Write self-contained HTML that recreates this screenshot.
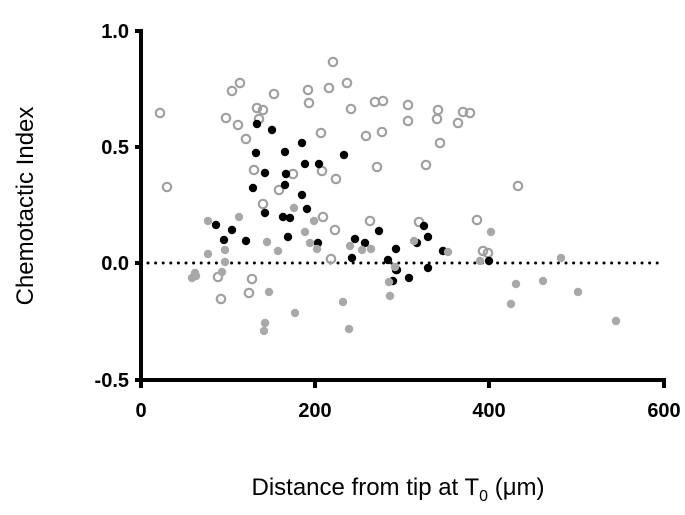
<!DOCTYPE html><html><head><style>body{margin:0;background:#fff}svg{display:block}text{font-family:"Liberation Sans",sans-serif}</style></head><body>
<svg width="685" height="515" viewBox="0 0 685 515">
<line x1="148" y1="263" x2="664" y2="263" stroke="#000" stroke-width="3" stroke-dasharray="0 7.6" stroke-linecap="round"/>
<g fill="none" stroke="#a0a0a0" stroke-width="2.2">
<script>/*none*/</script>
</g>
<g id="o" fill="none" stroke="#a0a0a0" stroke-width="2.2"></g>
<g id="b" fill="#000"></g>
<g id="g" fill="#a8a8a8"></g>
<g stroke="#000" stroke-width="4" fill="none">
<path d="M141 29V382M135 31H141M135 147H141M135 263H141M135 380H141M139 380H666M141 380V388M315 380V388M489 380V388M664 380V388"/>
</g>
<g font-size="20" font-weight="bold" text-anchor="end">
<text x="129" y="38">1.0</text><text x="129" y="154">0.5</text><text x="129" y="270">0.0</text><text x="129" y="387">-0.5</text></g>
<g font-size="20" font-weight="bold" text-anchor="middle">
<text x="141" y="417">0</text><text x="315" y="417">200</text><text x="489" y="417">400</text><text x="664" y="417">600</text></g>
<text x="398" y="495" font-size="24" text-anchor="middle">Distance from tip at T<tspan font-size="16" dy="6">0</tspan><tspan dy="-6"> (μm)</tspan></text>
<text transform="translate(33,206) rotate(-90)" font-size="24" text-anchor="middle">Chemotactic Index</text>
</svg>
<script>
var O=[[160,113],[167,187],[232,91],[240,83],[274,94],[308,90],[309,103],[329,88],[333,62],[347,83],[375,102],[383,101],[351,109],[257,108],[263,110],[226,118],[238,125],[259,119],[246,139],[321,133],[366,136],[382,132],[254,170],[293,174],[322,171],[336,179],[377,167],[279,190],[263,204],[323,217],[335,230],[370,221],[331,259],[218,277],[252,279],[249,293],[221,299],[408,105],[408,121],[438,110],[437,119],[458,123],[463,112],[470,113],[440,143],[426,165],[518,186],[477,220],[419,222],[483,251],[488,253]];
var B=[[257,124],[272,130],[302,143],[256,153],[285,152],[344,155],[305,164],[319,164],[265,173],[286,174],[253,188],[285,185],[302,195],[265,213],[283,217],[290,218],[307,209],[216,225],[232,230],[224,240],[246,241],[288,237],[318,243],[355,239],[365,243],[379,231],[352,258],[388,260],[396,249],[396,270],[393,281],[397,270],[409,278],[424,226],[428,237],[417,243],[443,251],[428,268],[489,261]];
var G=[[208,221],[239,217],[294,208],[314,221],[305,232],[267,242],[278,251],[310,243],[317,249],[208,254],[225,250],[225,262],[222,272],[195,273],[192,278],[196,276],[350,246],[362,250],[371,249],[395,267],[389,282],[390,296],[269,292],[343,302],[295,313],[265,323],[264,331],[349,329],[414,241],[448,252],[491,232],[480,261],[561,258],[516,284],[543,281],[511,304],[578,292],[616,321]];
function add(id,a,r){var g=document.getElementById(id),s='';a.forEach(function(p){s+='<circle cx="'+p[0]+'" cy="'+p[1]+'" r="'+r+'"/>'});g.innerHTML=s;}
add('o',O,4.2);add('b',B,4.2);add('g',G,4.2);
</script>
</body></html>
